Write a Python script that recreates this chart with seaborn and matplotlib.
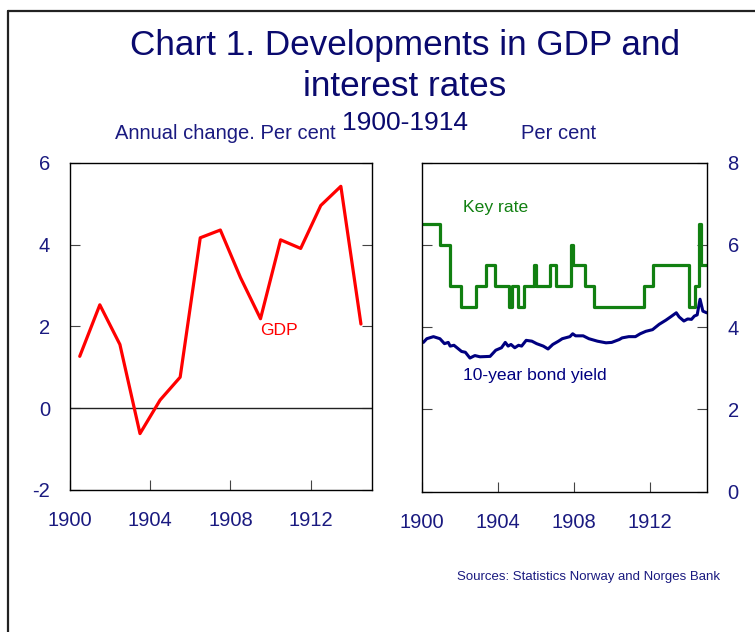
import pandas as pd
import matplotlib.pyplot as plt
import seaborn as sns
from matplotlib.lines import Line2D

# GDP, annual change in per cent (plotted mid-year)
gdp_years = [1900.5, 1901.5, 1902.5, 1903.5, 1904.5, 1905.5, 1906.5, 1907.5,
             1908.5, 1909.5, 1910.5, 1911.5, 1912.5, 1913.5, 1914.5]
gdp_change = [1.27, 2.53, 1.56, -0.62, 0.20, 0.76, 4.17, 4.36,
              3.20, 2.19, 4.12, 3.91, 4.96, 5.43, 2.06]

# Key rate: date of each change and the new rate
key_dates = [1900.05, 1900.96, 1901.50, 1902.07, 1902.88, 1903.40, 1903.84, 1904.58,
             1904.74, 1905.07, 1905.37, 1905.90, 1906.02, 1906.73, 1907.06, 1907.85,
             1907.95, 1908.60, 1909.05, 1911.68, 1912.18, 1914.05, 1914.40, 1914.58,
             1914.70, 1915.00]
key_rate = [6.5, 6.0, 5.0, 4.5, 5.0, 5.5, 5.0, 4.5,
            5.0, 4.5, 5.0, 5.5, 5.0, 5.5, 5.0, 6.0,
            5.5, 5.0, 4.5, 5.0, 5.5, 4.5, 5.0, 6.5,
            5.5, 5.5]

# 10-year government bond yield
bond_dates = [1900.09, 1900.27, 1900.62, 1900.96, 1901.20, 1901.40, 1901.50, 1901.70,
              1901.86, 1902.10, 1902.30, 1902.54, 1902.80, 1903.07, 1903.60, 1903.90,
              1904.20, 1904.40, 1904.55, 1904.70, 1904.90, 1905.10, 1905.26, 1905.50,
              1905.80, 1906.05, 1906.40, 1906.65, 1906.90, 1907.20, 1907.40, 1907.80,
              1907.95, 1908.10, 1908.50, 1908.80, 1909.25, 1909.70, 1910.00, 1910.40,
              1910.55, 1910.90, 1911.25, 1911.50, 1911.80, 1912.15, 1912.50, 1912.85,
              1913.10, 1913.40, 1913.55, 1913.80, 1914.00, 1914.20, 1914.35, 1914.50,
              1914.65, 1914.80, 1915.00]
bond_yield = [3.63, 3.72, 3.77, 3.72, 3.60, 3.63, 3.54, 3.56,
              3.50, 3.41, 3.39, 3.25, 3.31, 3.28, 3.29, 3.44,
              3.50, 3.63, 3.54, 3.58, 3.50, 3.56, 3.54, 3.68,
              3.66, 3.60, 3.54, 3.47, 3.58, 3.66, 3.72, 3.77,
              3.84, 3.79, 3.79, 3.72, 3.66, 3.62, 3.63, 3.70,
              3.74, 3.77, 3.77, 3.84, 3.90, 3.94, 4.07, 4.17,
              4.25, 4.35, 4.25, 4.15, 4.20, 4.19, 4.27, 4.30,
              4.68, 4.39, 4.35]

year_ticks = [1900, 1904, 1908, 1912]

NAVY = "#1a1a80"
TITLE = "#0a0a6e"

sns.set_theme(style="white")
plt.rcParams["font.family"] = ["Liberation Sans", "DejaVu Sans"]
plt.rcParams["axes.unicode_minus"] = False

gdp = pd.DataFrame({"year": gdp_years, "change": gdp_change})
key = pd.DataFrame({"year": key_dates, "rate": key_rate})
bond = pd.DataFrame({"year": bond_dates, "rate": bond_yield})

fig = plt.figure(figsize=(7.55, 6.32), dpi=100)
ax1 = fig.add_axes([0.0923, 0.2247, 0.4004, 0.5174])
ax2 = fig.add_axes([0.5585, 0.2220, 0.3775, 0.5206])

# left panel: GDP
ax1.axhline(0, color="#222222", lw=1)
sns.lineplot(data=gdp, x="year", y="change", ax=ax1, color="#ff0000", lw=2.3)
ax1.text(1909.5, 1.80, "GDP", color="#ff0000", fontsize=12.6, va="baseline")
ax1.set_xlim(1900, 1915.05)
ax1.set_ylim(-2, 6)
ax1.set_yticks([-2, 0, 2, 4, 6])

# right panel: key rate and bond yield
sns.lineplot(data=key, x="year", y="rate", ax=ax2, color="#118011", lw=2.3,
             drawstyle="steps-post")
sns.lineplot(data=bond, x="year", y="rate", ax=ax2, color="#000080", lw=2.2)
ax2.text(1902.19, 6.79, "Key rate", color="#118011", fontsize=12.6, va="baseline")
ax2.text(1902.19, 2.72, "10-year bond yield", color="#000080", fontsize=12.6,
         va="baseline")
ax2.set_xlim(1900, 1915)
ax2.set_ylim(0, 8)
ax2.set_yticks([0, 2, 4, 6, 8])

for ax in (ax1, ax2):
    ax.set_xticks(year_ticks)
    ax.set_xlabel("")
    ax.set_ylabel("")
    for s in ax.spines.values():
        s.set_color("black")
        s.set_linewidth(1.0)
    ax.tick_params(direction="in", length=7, width=0.8, color="#444444",
                   labelcolor=NAVY, labelsize=14.5, left=True, right=True,
                   bottom=True, top=False)
    ax.tick_params(axis="x", pad=15)

ax1.tick_params(axis="y", labelleft=True, labelright=False, pad=14)
ax2.tick_params(axis="y", labelleft=False, labelright=True, pad=15)

# titles and captions
fig.text(0.5364, 1 - 55 / 632, "Chart 1. Developments in GDP and", ha="center",
         va="baseline", fontsize=25.3, color=TITLE)
fig.text(0.5364, 1 - 96 / 632, "interest rates", ha="center", va="baseline",
         fontsize=25.3, color=TITLE)
fig.text(0.5364, 1 - 130 / 632, "1900-1914", ha="center", va="baseline",
         fontsize=19, color=TITLE)
fig.text(115 / 755, 1 - 139 / 632, "Annual change. Per cent", ha="left",
         va="baseline", fontsize=14.5, color=NAVY)
fig.text(521 / 755, 1 - 139 / 632, "Per cent", ha="left", va="baseline",
         fontsize=14.5, color=NAVY)
fig.text(457 / 755, 1 - 580 / 632, "Sources: Statistics Norway and Norges Bank",
         ha="left", va="baseline", fontsize=9.5, color=NAVY)

# outer frame (top and left edges)
fy = 1 - 11 / 632
fx = 8 / 755
fig.add_artist(Line2D([fx, 1.0], [fy, fy], color="#222222", lw=1.6))
fig.add_artist(Line2D([fx, fx], [0.0, fy], color="#222222", lw=1.6))

fig.savefig("out.png", dpi=100)
